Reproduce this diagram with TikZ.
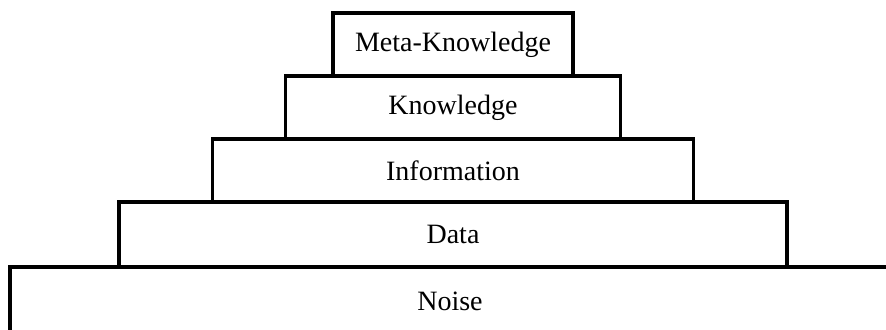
\documentclass[tikz,border=0pt]{standalone}
\usepackage{fontspec}
\setmainfont{Liberation Serif}
\usetikzlibrary{positioning}

\begin{document}
\begin{tikzpicture}[
    x=0.5pt,
    y=-0.5pt,
    layer/.style={draw, line width=1.8pt, rectangle, inner sep=0pt, outer sep=0pt,
        minimum height=31.5pt, font=\fontsize{14}{16}\selectfont},
    node distance=0pt,
]

    \useasboundingbox (0,0) rectangle (886,329);
    \clip (0,0) rectangle (886,329);

    \node[layer, minimum width=440pt, minimum height=34pt]   (Noise) at (450,301) {Noise};
    \node[layer, minimum width=334pt, minimum height=32.5pt,
          above=of Noise.north -| {(453,0)}]                 (Data)  {Data};
    \node[layer, minimum width=240.5pt, above=of Data]       (Info)  {Information};
    \node[layer, minimum width=167.5pt, above=of Info]       (Know)  {Knowledge};
    \node[layer, minimum width=120pt,   above=of Know]       (Meta)  {Meta-Knowledge};
\end{tikzpicture}
\end{document}
